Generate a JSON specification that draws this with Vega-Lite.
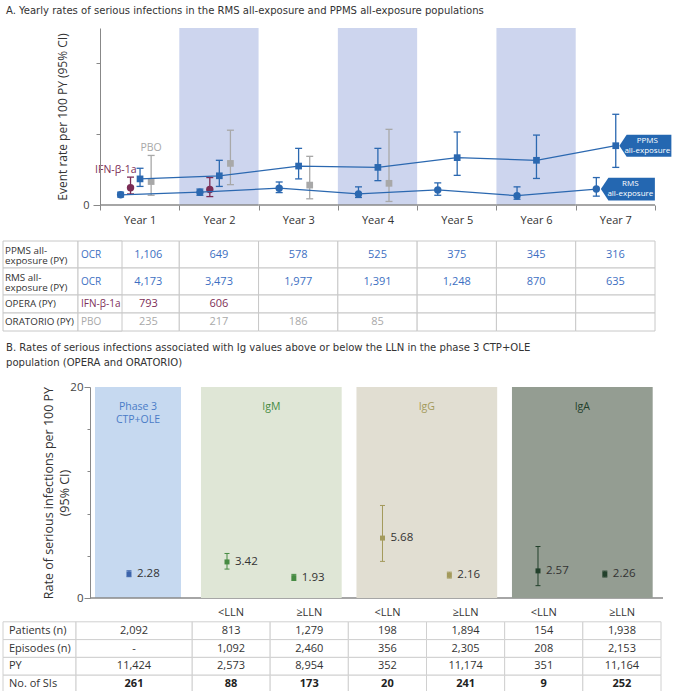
{
"$schema": "https://vega.github.io/schema/vega-lite/v6.json",
"padding": {"left": 2, "top": 4, "right": 0, "bottom": 0},
"config": {
  "font": "Open Sans",
  "view": {"stroke": null},
  "axis": {"labelFont": "Open Sans", "titleFont": "Open Sans"},
  "text": {"font": "Open Sans", "fontSize": 11, "color": "#333"}
},
"datasets": {
  "yearsA": [{"year": "Year 1"}, {"year": "Year 2"}, {"year": "Year 3"}, {"year": "Year 4"}, {"year": "Year 5"}, {"year": "Year 6"}, {"year": "Year 7"}],
  "shadeA": [{"year": "Year 2"}, {"year": "Year 4"}, {"year": "Year 6"}],
  "trendA": [
    {"year": "Year 1", "series": "RMS", "rate": 1.15, "lo": 0.9, "hi": 1.45},
    {"year": "Year 1", "series": "IFN-β-1a", "rate": 1.95, "lo": 1.25, "hi": 3.15},
    {"year": "Year 1", "series": "PPMS", "rate": 2.95, "lo": 2.1, "hi": 4.15},
    {"year": "Year 1", "series": "PBO", "rate": 2.65, "lo": 1.1, "hi": 5.6},
    {"year": "Year 2", "series": "RMS", "rate": 1.45, "lo": 1.1, "hi": 1.8},
    {"year": "Year 2", "series": "IFN-β-1a", "rate": 1.75, "lo": 0.95, "hi": 3.1},
    {"year": "Year 2", "series": "PPMS", "rate": 3.3, "lo": 2.1, "hi": 5.05},
    {"year": "Year 2", "series": "PBO", "rate": 4.7, "lo": 2.3, "hi": 8.45},
    {"year": "Year 3", "series": "RMS", "rate": 1.9, "lo": 1.4, "hi": 2.6},
    {"year": "Year 3", "series": "PPMS", "rate": 4.4, "lo": 2.95, "hi": 6.4},
    {"year": "Year 3", "series": "PBO", "rate": 2.25, "lo": 0.7, "hi": 5.5},
    {"year": "Year 4", "series": "RMS", "rate": 1.25, "lo": 0.85, "hi": 2.05},
    {"year": "Year 4", "series": "PPMS", "rate": 4.25, "lo": 2.75, "hi": 6.4},
    {"year": "Year 4", "series": "PBO", "rate": 2.45, "lo": 0.4, "hi": 8.55},
    {"year": "Year 5", "series": "RMS", "rate": 1.7, "lo": 1.1, "hi": 2.5},
    {"year": "Year 5", "series": "PPMS", "rate": 5.35, "lo": 3.35, "hi": 8.25},
    {"year": "Year 6", "series": "RMS", "rate": 1.05, "lo": 0.65, "hi": 2.05},
    {"year": "Year 6", "series": "PPMS", "rate": 5.05, "lo": 3.0, "hi": 7.9},
    {"year": "Year 7", "series": "RMS", "rate": 1.8, "lo": 1.0, "hi": 3.1},
    {"year": "Year 7", "series": "PPMS", "rate": 6.7, "lo": 4.25, "hi": 10.25}
  ],
  "tagsA": [
    {"year": "Year 7", "series": "PPMS", "rate": 6.7, "label": "PPMS\nall-exposure"},
    {"year": "Year 7", "series": "RMS", "rate": 1.8, "label": "RMS\nall-exposure"}
  ],
  "tableA": [
    {"set": "all", "row": "PPMS all-exposure (PY)", "col": "label", "text": "PPMS all-\nexposure (PY)"},
    {"set": "all", "row": "PPMS all-exposure (PY)", "col": "trt", "text": "OCR", "arm": "OCR"},
    {"set": "all", "row": "PPMS all-exposure (PY)", "col": "Year 1", "text": "1,106", "arm": "OCR"},
    {"set": "all", "row": "PPMS all-exposure (PY)", "col": "Year 2", "text": "649", "arm": "OCR"},
    {"set": "all", "row": "PPMS all-exposure (PY)", "col": "Year 3", "text": "578", "arm": "OCR"},
    {"set": "all", "row": "PPMS all-exposure (PY)", "col": "Year 4", "text": "525", "arm": "OCR"},
    {"set": "all", "row": "PPMS all-exposure (PY)", "col": "Year 5", "text": "375", "arm": "OCR"},
    {"set": "all", "row": "PPMS all-exposure (PY)", "col": "Year 6", "text": "345", "arm": "OCR"},
    {"set": "all", "row": "PPMS all-exposure (PY)", "col": "Year 7", "text": "316", "arm": "OCR"},
    {"set": "all", "row": "RMS all-exposure (PY)", "col": "label", "text": "RMS all-\nexposure (PY)"},
    {"set": "all", "row": "RMS all-exposure (PY)", "col": "trt", "text": "OCR", "arm": "OCR"},
    {"set": "all", "row": "RMS all-exposure (PY)", "col": "Year 1", "text": "4,173", "arm": "OCR"},
    {"set": "all", "row": "RMS all-exposure (PY)", "col": "Year 2", "text": "3,473", "arm": "OCR"},
    {"set": "all", "row": "RMS all-exposure (PY)", "col": "Year 3", "text": "1,977", "arm": "OCR"},
    {"set": "all", "row": "RMS all-exposure (PY)", "col": "Year 4", "text": "1,391", "arm": "OCR"},
    {"set": "all", "row": "RMS all-exposure (PY)", "col": "Year 5", "text": "1,248", "arm": "OCR"},
    {"set": "all", "row": "RMS all-exposure (PY)", "col": "Year 6", "text": "870", "arm": "OCR"},
    {"set": "all", "row": "RMS all-exposure (PY)", "col": "Year 7", "text": "635", "arm": "OCR"},
    {"set": "ctp", "row": "OPERA (PY)", "col": "label", "text": "OPERA (PY)"},
    {"set": "ctp", "row": "OPERA (PY)", "col": "trt", "text": "IFN-β-1a", "arm": "IFN-β-1a"},
    {"set": "ctp", "row": "OPERA (PY)", "col": "Year 1", "text": "793", "arm": "IFN-β-1a"},
    {"set": "ctp", "row": "OPERA (PY)", "col": "Year 2", "text": "606", "arm": "IFN-β-1a"},
    {"set": "ctp", "row": "OPERA (PY)", "col": "Year 3", "text": "", "arm": "IFN-β-1a"},
    {"set": "ctp", "row": "OPERA (PY)", "col": "Year 4", "text": "", "arm": "IFN-β-1a"},
    {"set": "ctp", "row": "OPERA (PY)", "col": "Year 5", "text": "", "arm": "IFN-β-1a"},
    {"set": "ctp", "row": "OPERA (PY)", "col": "Year 6", "text": "", "arm": "IFN-β-1a"},
    {"set": "ctp", "row": "OPERA (PY)", "col": "Year 7", "text": "", "arm": "IFN-β-1a"},
    {"set": "ctp", "row": "ORATORIO (PY)", "col": "label", "text": "ORATORIO (PY)"},
    {"set": "ctp", "row": "ORATORIO (PY)", "col": "trt", "text": "PBO", "arm": "PBO"},
    {"set": "ctp", "row": "ORATORIO (PY)", "col": "Year 1", "text": "235", "arm": "PBO"},
    {"set": "ctp", "row": "ORATORIO (PY)", "col": "Year 2", "text": "217", "arm": "PBO"},
    {"set": "ctp", "row": "ORATORIO (PY)", "col": "Year 3", "text": "186", "arm": "PBO"},
    {"set": "ctp", "row": "ORATORIO (PY)", "col": "Year 4", "text": "85", "arm": "PBO"},
    {"set": "ctp", "row": "ORATORIO (PY)", "col": "Year 5", "text": "", "arm": "PBO"},
    {"set": "ctp", "row": "ORATORIO (PY)", "col": "Year 6", "text": "", "arm": "PBO"},
    {"set": "ctp", "row": "ORATORIO (PY)", "col": "Year 7", "text": "", "arm": "PBO"}
  ],
  "pointsB": [
    {"group": "Phase 3", "level": "All", "rate": 2.28, "lo": 2.02, "hi": 2.58},
    {"group": "IgM", "level": "<LLN", "rate": 3.42, "lo": 2.74, "hi": 4.22},
    {"group": "IgM", "level": "≥LLN", "rate": 1.93, "lo": 1.66, "hi": 2.24},
    {"group": "IgG", "level": "<LLN", "rate": 5.68, "lo": 3.47, "hi": 8.77},
    {"group": "IgG", "level": "≥LLN", "rate": 2.16, "lo": 1.89, "hi": 2.45},
    {"group": "IgA", "level": "<LLN", "rate": 2.57, "lo": 1.17, "hi": 4.88},
    {"group": "IgA", "level": "≥LLN", "rate": 2.26, "lo": 1.99, "hi": 2.55}
  ],
  "groupsB": [{"group": "IgM"}, {"group": "IgG"}, {"group": "IgA"}],
  "tableB": [
    {"row": "hdr", "col": "IgM <LLN", "text": "<LLN"},
    {"row": "hdr", "col": "IgM ≥LLN", "text": "≥LLN"},
    {"row": "hdr", "col": "IgG <LLN", "text": "<LLN"},
    {"row": "hdr", "col": "IgG ≥LLN", "text": "≥LLN"},
    {"row": "hdr", "col": "IgA <LLN", "text": "<LLN"},
    {"row": "hdr", "col": "IgA ≥LLN", "text": "≥LLN"},
    {"row": "Patients (n)", "col": "label", "text": "Patients (n)"},
    {"row": "Patients (n)", "col": "Phase 3", "text": "2,092"},
    {"row": "Patients (n)", "col": "IgM <LLN", "text": "813"},
    {"row": "Patients (n)", "col": "IgM ≥LLN", "text": "1,279"},
    {"row": "Patients (n)", "col": "IgG <LLN", "text": "198"},
    {"row": "Patients (n)", "col": "IgG ≥LLN", "text": "1,894"},
    {"row": "Patients (n)", "col": "IgA <LLN", "text": "154"},
    {"row": "Patients (n)", "col": "IgA ≥LLN", "text": "1,938"},
    {"row": "Episodes (n)", "col": "label", "text": "Episodes (n)"},
    {"row": "Episodes (n)", "col": "Phase 3", "text": "-"},
    {"row": "Episodes (n)", "col": "IgM <LLN", "text": "1,092"},
    {"row": "Episodes (n)", "col": "IgM ≥LLN", "text": "2,460"},
    {"row": "Episodes (n)", "col": "IgG <LLN", "text": "356"},
    {"row": "Episodes (n)", "col": "IgG ≥LLN", "text": "2,305"},
    {"row": "Episodes (n)", "col": "IgA <LLN", "text": "208"},
    {"row": "Episodes (n)", "col": "IgA ≥LLN", "text": "2,153"},
    {"row": "PY", "col": "label", "text": "PY"},
    {"row": "PY", "col": "Phase 3", "text": "11,424"},
    {"row": "PY", "col": "IgM <LLN", "text": "2,573"},
    {"row": "PY", "col": "IgM ≥LLN", "text": "8,954"},
    {"row": "PY", "col": "IgG <LLN", "text": "352"},
    {"row": "PY", "col": "IgG ≥LLN", "text": "11,174"},
    {"row": "PY", "col": "IgA <LLN", "text": "351"},
    {"row": "PY", "col": "IgA ≥LLN", "text": "11,164"},
    {"row": "No. of SIs", "col": "label", "text": "No. of SIs"},
    {"row": "No. of SIs", "col": "Phase 3", "text": "261"},
    {"row": "No. of SIs", "col": "IgM <LLN", "text": "88"},
    {"row": "No. of SIs", "col": "IgM ≥LLN", "text": "173"},
    {"row": "No. of SIs", "col": "IgG <LLN", "text": "20"},
    {"row": "No. of SIs", "col": "IgG ≥LLN", "text": "241"},
    {"row": "No. of SIs", "col": "IgA <LLN", "text": "9"},
    {"row": "No. of SIs", "col": "IgA ≥LLN", "text": "252"}
  ]
},
"spacing": 9,
"resolve": {"scale": {"color": "independent", "fill": "independent"}},
"vconcat": [
 {"spacing": 15, "resolve": {"scale": {"color": "independent", "fill": "independent"}}, "vconcat": [
  {
   "width": 652, "height": 177,
   "title": {"text": "A. Yearly rates of serious infections in the RMS all-exposure and PPMS all-exposure populations", "anchor": "start", "frame": "group", "dx": 3, "offset": 12, "fontSize": 11.2, "fontWeight": "normal", "font": "Liberation Sans Narrow, DejaVu Sans Condensed, Open Sans", "color": "#333"},
   "layer": [
    {"data": {"name": "shadeA"}, "mark": {"type": "rect", "color": "#cdd5ee"},
     "encoding": {
       "x": {"field": "year", "type": "nominal", "bandPosition": 0, "scale": {"type": "band", "domain": ["Year 1","Year 2","Year 3","Year 4","Year 5","Year 6","Year 7"], "paddingInner": 0, "paddingOuter": 0.6117, "align": 1},
             "axis": {"title": null, "tickBand": "extent", "domain": false, "tickColor": "#888", "tickSize": 5, "labelFontSize": 11, "labelColor": "#333", "labelPadding": 4, "labelAngle": 0}},
       "x2": {"field": "year", "bandPosition": 1},
       "y": {"datum": 0, "type": "quantitative", "scale": {"domain": [0, 20]},
             "axis": {"title": "Event rate per 100 PY (95% CI)", "offset": -97, "zindex": 1, "values": [0,1,2,3,4,5,6,7,8,9,10,11,12,13,14,15,16,17,18,19,20], "labelExpr": "datum.value % 5 === 0 ? datum.label : ''", "labelOverlap": false, "tickSize": {"condition": {"test": "datum.value % 5 === 0", "value": 7}, "value": 4}, "grid": false, "domainColor": "#888", "tickColor": "#888", "labelFontSize": 11, "labelColor": "#444", "labelPadding": 4, "titleFontSize": 12, "titleFontWeight": "normal", "titleColor": "#333", "titlePadding": 13}},
       "y2": {"datum": 20}
     }},
    {"data": {"name": "yearsA"}, "mark": {"type": "rule", "color": "#888", "strokeWidth": 1.5},
     "encoding": {"x": {"field": "year", "type": "nominal", "bandPosition": 0}, "x2": {"field": "year", "bandPosition": 1}, "y": {"datum": 0, "type": "quantitative"}}},
    {"data": {"name": "trendA"}, "transform": [{"filter": "datum.series == 'PBO'"}],
     "encoding": {"x": {"field": "year", "type": "nominal", "bandPosition": 0.645}},
     "layer": [
       {"mark": {"type": "rule", "strokeWidth": 1.3, "color": "#a8a8a8"}, "encoding": {"y": {"field": "lo", "type": "quantitative"}, "y2": {"field": "hi"}}},
       {"mark": {"type": "point", "shape": "M-1,0L1,0", "filled": false, "strokeWidth": 1.3, "size": 49, "opacity": 1, "color": "#a8a8a8"}, "encoding": {"y": {"field": "lo", "type": "quantitative"}}},
       {"mark": {"type": "point", "shape": "M-1,0L1,0", "filled": false, "strokeWidth": 1.3, "size": 49, "opacity": 1, "color": "#a8a8a8"}, "encoding": {"y": {"field": "hi", "type": "quantitative"}}},
       {"mark": {"type": "point", "shape": "square", "filled": true, "opacity": 1, "size": 45, "color": "#a8a8a8"}, "encoding": {"y": {"field": "rate", "type": "quantitative"}}}
     ]},
    {"data": {"name": "trendA"}, "transform": [{"filter": "datum.series == 'IFN-β-1a'"}],
     "encoding": {"x": {"field": "year", "type": "nominal", "bandPosition": 0.385}},
     "layer": [
       {"mark": {"type": "rule", "strokeWidth": 1.3, "color": "#7b2c55"}, "encoding": {"y": {"field": "lo", "type": "quantitative"}, "y2": {"field": "hi"}}},
       {"mark": {"type": "point", "shape": "M-1,0L1,0", "filled": false, "strokeWidth": 1.3, "size": 49, "opacity": 1, "color": "#7b2c55"}, "encoding": {"y": {"field": "lo", "type": "quantitative"}}},
       {"mark": {"type": "point", "shape": "M-1,0L1,0", "filled": false, "strokeWidth": 1.3, "size": 49, "opacity": 1, "color": "#7b2c55"}, "encoding": {"y": {"field": "hi", "type": "quantitative"}}},
       {"mark": {"type": "point", "shape": "circle", "filled": true, "opacity": 1, "size": 55, "color": "#7b2c55"}, "encoding": {"y": {"field": "rate", "type": "quantitative"}}}
     ]},
    {"data": {"name": "trendA"}, "transform": [{"filter": "datum.series == 'RMS'"}],
     "encoding": {"x": {"field": "year", "type": "nominal", "bandPosition": 0.26}},
     "layer": [
       {"mark": {"type": "rule", "strokeWidth": 1.3, "color": "#2b68b0"}, "encoding": {"y": {"field": "lo", "type": "quantitative"}, "y2": {"field": "hi"}}},
       {"mark": {"type": "point", "shape": "M-1,0L1,0", "filled": false, "strokeWidth": 1.3, "size": 49, "opacity": 1, "color": "#2b68b0"}, "encoding": {"y": {"field": "lo", "type": "quantitative"}}},
       {"mark": {"type": "point", "shape": "M-1,0L1,0", "filled": false, "strokeWidth": 1.3, "size": 49, "opacity": 1, "color": "#2b68b0"}, "encoding": {"y": {"field": "hi", "type": "quantitative"}}},
       {"mark": {"type": "line", "strokeWidth": 1.3, "color": "#2b68b0"}, "encoding": {"y": {"field": "rate", "type": "quantitative"}}},
       {"mark": {"type": "point", "shape": "circle", "filled": true, "opacity": 1, "size": 55, "color": "#2b68b0"}, "encoding": {"y": {"field": "rate", "type": "quantitative"}}}
     ]},
    {"data": {"name": "trendA"}, "transform": [{"filter": "datum.series == 'PPMS'"}],
     "encoding": {"x": {"field": "year", "type": "nominal", "bandPosition": 0.505}},
     "layer": [
       {"mark": {"type": "rule", "strokeWidth": 1.3, "color": "#2b68b0"}, "encoding": {"y": {"field": "lo", "type": "quantitative"}, "y2": {"field": "hi"}}},
       {"mark": {"type": "point", "shape": "M-1,0L1,0", "filled": false, "strokeWidth": 1.3, "size": 49, "opacity": 1, "color": "#2b68b0"}, "encoding": {"y": {"field": "lo", "type": "quantitative"}}},
       {"mark": {"type": "point", "shape": "M-1,0L1,0", "filled": false, "strokeWidth": 1.3, "size": 49, "opacity": 1, "color": "#2b68b0"}, "encoding": {"y": {"field": "hi", "type": "quantitative"}}},
       {"mark": {"type": "line", "strokeWidth": 1.3, "color": "#2b68b0"}, "encoding": {"y": {"field": "rate", "type": "quantitative"}}},
       {"mark": {"type": "point", "shape": "square", "filled": true, "opacity": 1, "size": 45, "color": "#2b68b0"}, "encoding": {"y": {"field": "rate", "type": "quantitative"}}}
     ]},
    {"data": {"name": "trendA"}, "transform": [{"filter": "datum.year == 'Year 1' && (datum.series == 'PBO' || datum.series == 'IFN-β-1a')"}],
     "layer": [
       {"transform": [{"filter": "datum.series == 'PBO'"}], "mark": {"type": "text", "align": "center", "baseline": "alphabetic", "dy": -4, "fontSize": 10.5, "color": "#a8a8a8"}, "encoding": {"x": {"field": "year", "type": "nominal", "bandPosition": 0.645}, "y": {"field": "hi", "type": "quantitative"}, "text": {"field": "series"}}},
       {"transform": [{"filter": "datum.series == 'IFN-β-1a'"}], "mark": {"type": "text", "align": "right", "baseline": "alphabetic", "dx": 6, "dy": -4, "fontSize": 10.5, "color": "#7b2c55"}, "encoding": {"x": {"field": "year", "type": "nominal", "bandPosition": 0.385}, "y": {"field": "hi", "type": "quantitative"}, "text": {"field": "series"}}}
     ]},
    {"data": {"name": "tagsA"}, "transform": [{"filter": "datum.series == 'PPMS'"}],
     "encoding": {"x": {"field": "year", "type": "nominal"}, "y": {"field": "rate", "type": "quantitative"}},
     "layer": [
       {"mark": {"type": "point", "shape": "M-1,0L-0.72,-0.42L1,-0.42L1,0.42L-0.72,0.42Z", "size": 2704, "filled": true, "color": "#2467b1", "opacity": 1, "xOffset": 30}},
       {"mark": {"type": "text", "color": "white", "fontSize": 8, "lineBreak": "\n", "lineHeight": 10, "align": "center", "baseline": "middle", "dx": 32, "dy": -5}, "encoding": {"text": {"field": "label"}}}
     ]},
    {"data": {"name": "tagsA"}, "transform": [{"filter": "datum.series == 'RMS'"}],
     "encoding": {"x": {"field": "year", "type": "nominal"}, "y": {"field": "rate", "type": "quantitative"}},
     "layer": [
       {"mark": {"type": "point", "shape": "M-1,0L-0.72,-0.42L1,-0.42L1,0.42L-0.72,0.42Z", "size": 2916, "filled": true, "color": "#2467b1", "opacity": 1, "xOffset": 12.5}},
       {"mark": {"type": "text", "color": "white", "fontSize": 8, "lineBreak": "\n", "lineHeight": 10, "align": "center", "baseline": "middle", "dx": 15, "dy": -5}, "encoding": {"text": {"field": "label"}}}
     ]}
   ]
  },
  {"spacing": 0, "bounds": "flush", "vconcat": [
   {
    "width": 652, "height": 54,
    "data": {"name": "tableA"},
    "transform": [{"filter": "datum.set == 'all'"}],
    "resolve": {"scale": {"x": "independent"}},
    "layer": [
     {"transform": [{"filter": "datum.col != 'label' && datum.col != 'trt'"}],
      "layer": [
        {"mark": {"type": "rect", "fill": "#ffffff", "stroke": "#c8c8c8", "strokeWidth": 1},
         "encoding": {"x": {"field": "col", "type": "nominal", "bandPosition": 0, "scale": {"type": "band", "domain": ["Year 1","Year 2","Year 3","Year 4","Year 5","Year 6","Year 7"], "paddingInner": 0, "paddingOuter": 0.6117, "align": 1}, "axis": null}, "x2": {"field": "col", "bandPosition": 1},
                      "y": {"field": "row", "type": "nominal", "bandPosition": 0, "scale": {"type": "band", "domain": ["PPMS all-exposure (PY)", "RMS all-exposure (PY)"], "paddingInner": 0, "paddingOuter": 0}, "axis": null}, "y2": {"field": "row", "bandPosition": 1}}},
        {"transform": [{"filter": "datum.col != 'Year 1'"}], "mark": {"type": "text", "align": "center", "baseline": "middle", "fontSize": 11},
         "encoding": {"text": {"field": "text"}, "x": {"field": "col", "type": "nominal"}, "y": {"field": "row", "type": "nominal"}, "color": {"field": "arm", "type": "nominal", "scale": {"domain": ["OCR","IFN-β-1a","PBO"], "range": ["#3d6fc2","#7e2f58","#a9a9a9"]}, "legend": null}}},
        {"transform": [{"filter": "datum.col == 'Year 1'"}], "mark": {"type": "text", "align": "center", "baseline": "middle", "fontSize": 11},
         "encoding": {"text": {"field": "text"}, "x": {"field": "col", "type": "nominal", "bandPosition": 0.61}, "y": {"field": "row", "type": "nominal"}, "color": {"field": "arm", "type": "nominal", "legend": null}}}
      ]},
     {"transform": [{"filter": "datum.col == 'label'"}],
      "layer": [
        {"mark": {"type": "rect", "fill": "#ffffff", "stroke": "#c8c8c8", "strokeWidth": 1},
         "encoding": {"x": {"field": "col", "type": "nominal", "bandPosition": 0, "scale": {"type": "band", "domain": ["label"], "paddingInner": 0.74003, "paddingOuter": 1, "align": 0}, "axis": null}, "x2": {"field": "col", "bandPosition": 1},
                      "y": {"field": "row", "type": "nominal", "bandPosition": 0, "axis": null}, "y2": {"field": "row", "bandPosition": 1}}},
        {"mark": {"type": "text", "align": "left", "baseline": "middle", "dx": 2, "dy": -4, "lineBreak": "\n", "lineHeight": 10.5, "fontSize": 9.8, "color": "#333"},
         "encoding": {"text": {"field": "text"}, "x": {"field": "col", "type": "nominal", "bandPosition": 0}, "y": {"field": "row", "type": "nominal"}}}
      ]},
     {"transform": [{"filter": "datum.col == 'trt'"}],
      "layer": [
        {"mark": {"type": "rect", "fill": "#ffffff", "stroke": "#c8c8c8", "strokeWidth": 1},
         "encoding": {"x": {"field": "col", "type": "nominal", "bandPosition": 0, "scale": {"type": "band", "domain": ["trt"], "paddingInner": 0.85526, "paddingOuter": 1, "align": 0.12336}, "axis": null}, "x2": {"field": "col", "bandPosition": 1},
                      "y": {"field": "row", "type": "nominal", "bandPosition": 0, "axis": null}, "y2": {"field": "row", "bandPosition": 1}}},
        {"mark": {"type": "text", "align": "left", "baseline": "middle", "dx": 3, "fontSize": 10},
         "encoding": {"text": {"field": "text"}, "x": {"field": "col", "type": "nominal", "bandPosition": 0}, "y": {"field": "row", "type": "nominal"}, "color": {"field": "arm", "type": "nominal", "legend": null}}}
      ]}
    ]
   },
   {
    "width": 652, "height": 36,
    "data": {"name": "tableA"},
    "transform": [{"filter": "datum.set == 'ctp'"}],
    "resolve": {"scale": {"x": "independent"}},
    "layer": [
     {"transform": [{"filter": "datum.col != 'label' && datum.col != 'trt'"}],
      "layer": [
        {"mark": {"type": "rect", "fill": "#ffffff", "stroke": "#c8c8c8", "strokeWidth": 1},
         "encoding": {"x": {"field": "col", "type": "nominal", "bandPosition": 0, "scale": {"type": "band", "domain": ["Year 1","Year 2","Year 3","Year 4","Year 5","Year 6","Year 7"], "paddingInner": 0, "paddingOuter": 0.6117, "align": 1}, "axis": null}, "x2": {"field": "col", "bandPosition": 1},
                      "y": {"field": "row", "type": "nominal", "bandPosition": 0, "scale": {"type": "band", "domain": ["OPERA (PY)", "ORATORIO (PY)"], "paddingInner": 0, "paddingOuter": 0}, "axis": null}, "y2": {"field": "row", "bandPosition": 1}}},
        {"transform": [{"filter": "datum.col != 'Year 1'"}], "mark": {"type": "text", "align": "center", "baseline": "middle", "fontSize": 11},
         "encoding": {"text": {"field": "text"}, "x": {"field": "col", "type": "nominal"}, "y": {"field": "row", "type": "nominal"}, "color": {"field": "arm", "type": "nominal", "scale": {"domain": ["OCR","IFN-β-1a","PBO"], "range": ["#3d6fc2","#7e2f58","#a9a9a9"]}, "legend": null}}},
        {"transform": [{"filter": "datum.col == 'Year 1'"}], "mark": {"type": "text", "align": "center", "baseline": "middle", "fontSize": 11},
         "encoding": {"text": {"field": "text"}, "x": {"field": "col", "type": "nominal", "bandPosition": 0.61}, "y": {"field": "row", "type": "nominal"}, "color": {"field": "arm", "type": "nominal", "legend": null}}}
      ]},
     {"transform": [{"filter": "datum.col == 'label'"}],
      "layer": [
        {"mark": {"type": "rect", "fill": "#ffffff", "stroke": "#c8c8c8", "strokeWidth": 1},
         "encoding": {"x": {"field": "col", "type": "nominal", "bandPosition": 0, "scale": {"type": "band", "domain": ["label"], "paddingInner": 0.74003, "paddingOuter": 1, "align": 0}, "axis": null}, "x2": {"field": "col", "bandPosition": 1},
                      "y": {"field": "row", "type": "nominal", "bandPosition": 0, "axis": null}, "y2": {"field": "row", "bandPosition": 1}}},
        {"mark": {"type": "text", "align": "left", "baseline": "middle", "dx": 2, "fontSize": 9.8, "color": "#333"},
         "encoding": {"text": {"field": "text"}, "x": {"field": "col", "type": "nominal", "bandPosition": 0}, "y": {"field": "row", "type": "nominal"}}}
      ]},
     {"transform": [{"filter": "datum.col == 'trt'"}],
      "layer": [
        {"mark": {"type": "rect", "fill": "#ffffff", "stroke": "#c8c8c8", "strokeWidth": 1},
         "encoding": {"x": {"field": "col", "type": "nominal", "bandPosition": 0, "scale": {"type": "band", "domain": ["trt"], "paddingInner": 0.85526, "paddingOuter": 1, "align": 0.12336}, "axis": null}, "x2": {"field": "col", "bandPosition": 1},
                      "y": {"field": "row", "type": "nominal", "bandPosition": 0, "axis": null}, "y2": {"field": "row", "bandPosition": 1}}},
        {"mark": {"type": "text", "align": "left", "baseline": "middle", "dx": 3, "fontSize": 10},
         "encoding": {"text": {"field": "text"}, "x": {"field": "col", "type": "nominal", "bandPosition": 0}, "y": {"field": "row", "type": "nominal"}, "color": {"field": "arm", "type": "nominal", "legend": null}}}
      ]}
    ]
   }
  ]}
 ]},
 {"spacing": -3, "resolve": {"scale": {"color": "independent", "fill": "independent"}}, "vconcat": [
  {
   "width": 660, "height": 211,
   "title": {"text": ["B. Rates of serious infections associated with Ig values above or below the LLN in the phase 3 CTP+OLE", "\u2002\u2002population (OPERA and ORATORIO)"], "anchor": "start", "frame": "group", "dx": 3, "offset": 13, "fontSize": 11.2, "fontWeight": "normal", "font": "Liberation Sans Narrow, DejaVu Sans Condensed, Open Sans", "color": "#333", "lineHeight": 15},
   "resolve": {"scale": {"x": "independent"}},
   "layer": [
    {"data": {"name": "pointsB"}, "transform": [{"filter": "datum.group == 'Phase 3'"}],
     "layer": [
       {"mark": {"type": "rect", "color": "#c6d9f0"},
        "encoding": {"x": {"field": "group", "type": "nominal", "bandPosition": 0, "scale": {"type": "band", "domain": ["Phase 3"], "paddingInner": 0.700348, "paddingOuter": 1, "align": 0.160279}, "axis": null}, "x2": {"field": "group", "bandPosition": 1},
          "y": {"datum": 0, "type": "quantitative", "scale": {"domain": [0, 20]},
          "axis": {"title": ["Rate of serious infections per 100 PY", "(95% CI)"], "offset": -87, "zindex": 1, "values": [0,1,2,3,4,5,6,7,8,9,10,11,12,13,14,15,16,17,18,19,20], "labelExpr": "datum.value % 5 === 0 ? datum.label : ''", "labelOverlap": false, "tickSize": {"condition": {"test": "datum.value % 5 === 0", "value": 6}, "value": 3}, "grid": false, "domainColor": "#888", "tickColor": "#888", "labelFontSize": 11.5, "labelColor": "#444", "labelPadding": 1, "titleFontSize": 12.5, "titleFontWeight": "normal", "titleColor": "#333", "titlePadding": -2, "titleLineHeight": 16}},
          "y2": {"datum": 20}}},
       {"mark": {"type": "rule", "color": "#888", "strokeWidth": 1.5}, "encoding": {"x": {"field": "group", "type": "nominal", "bandPosition": -0.0581}, "x2": {"field": "group", "bandPosition": 6.605}, "y": {"datum": 0, "type": "quantitative"}}},
       {"mark": {"type": "text", "text": ["Phase 3", "CTP+OLE"], "baseline": "top", "dy": 15, "fontSize": 10.5, "lineHeight": 12.5, "color": "#4a7cc7"}, "encoding": {"x": {"field": "group", "type": "nominal"}, "y": {"datum": 20, "type": "quantitative"}}},
       {"mark": {"type": "rule", "color": "#3c64ab", "strokeWidth": 1}, "encoding": {"x": {"field": "group", "type": "nominal", "bandPosition": 0.395}, "y": {"field": "lo", "type": "quantitative"}, "y2": {"field": "hi"}}},
       {"mark": {"type": "point", "shape": "M-1,0L1,0", "filled": false, "strokeWidth": 1, "size": 25, "opacity": 1, "color": "#3c64ab"}, "encoding": {"x": {"field": "group", "type": "nominal", "bandPosition": 0.395}, "y": {"field": "lo", "type": "quantitative"}}},
       {"mark": {"type": "point", "shape": "M-1,0L1,0", "filled": false, "strokeWidth": 1, "size": 25, "opacity": 1, "color": "#3c64ab"}, "encoding": {"x": {"field": "group", "type": "nominal", "bandPosition": 0.395}, "y": {"field": "hi", "type": "quantitative"}}},
       {"mark": {"type": "point", "shape": "square", "filled": true, "opacity": 1, "size": 25, "color": "#3c64ab"}, "encoding": {"x": {"field": "group", "type": "nominal", "bandPosition": 0.395}, "y": {"field": "rate", "type": "quantitative"}}},
       {"mark": {"type": "text", "align": "left", "baseline": "middle", "dx": 8, "fontSize": 11.5, "color": "#333"}, "encoding": {"x": {"field": "group", "type": "nominal", "bandPosition": 0.395}, "y": {"field": "rate", "type": "quantitative"}, "text": {"field": "rate", "type": "quantitative", "format": ".2f"}}}
     ]},
    {"layer": [
       {"data": {"name": "groupsB"}, "mark": {"type": "rect"},
        "encoding": {"x": {"field": "group", "type": "nominal", "bandPosition": 0, "scale": {"type": "band", "domain": ["IgM", "IgG", "IgA"], "paddingInner": 0.095, "paddingOuter": 0.6697, "align": 0.9505}, "axis": null}, "x2": {"field": "group", "bandPosition": 1},
                     "fill": {"field": "group", "type": "nominal", "scale": {"domain": ["IgM", "IgG", "IgA"], "range": ["#dfe6d6", "#e1ded2", "#949d92"]}, "legend": null},
                     "y": {"datum": 0, "type": "quantitative"}, "y2": {"datum": 20}}},
       {"data": {"name": "groupsB"}, "mark": {"type": "text", "baseline": "top", "dy": 15, "fontSize": 10.5},
        "encoding": {"x": {"field": "group", "type": "nominal"}, "y": {"datum": 20, "type": "quantitative"}, "text": {"field": "group"},
                     "color": {"field": "group", "type": "nominal", "scale": {"domain": ["IgM", "IgG", "IgA"], "range": ["#468b42", "#a39a5c", "#22402b"]}, "legend": null}}},
       {"data": {"name": "pointsB"}, "transform": [{"filter": "datum.group != 'Phase 3' && datum.level == '<LLN'"}],
        "encoding": {"x": {"field": "group", "type": "nominal", "bandPosition": 0.185}, "color": {"field": "group", "type": "nominal", "legend": null}},
        "layer": [
          {"mark": {"type": "rule", "strokeWidth": 1}, "encoding": {"y": {"field": "lo", "type": "quantitative"}, "y2": {"field": "hi"}}},
          {"mark": {"type": "point", "shape": "M-1,0L1,0", "filled": false, "strokeWidth": 1, "size": 25, "opacity": 1}, "encoding": {"y": {"field": "lo", "type": "quantitative"}}},
          {"mark": {"type": "point", "shape": "M-1,0L1,0", "filled": false, "strokeWidth": 1, "size": 25, "opacity": 1}, "encoding": {"y": {"field": "hi", "type": "quantitative"}}},
          {"mark": {"type": "point", "shape": "square", "filled": true, "opacity": 1, "size": 25}, "encoding": {"y": {"field": "rate", "type": "quantitative"}}},
          {"mark": {"type": "text", "align": "left", "baseline": "middle", "dx": 8, "fontSize": 11.5}, "encoding": {"y": {"field": "rate", "type": "quantitative"}, "text": {"field": "rate", "type": "quantitative", "format": ".2f"}, "color": {"value": "#333"}}}
        ]},
       {"data": {"name": "pointsB"}, "transform": [{"filter": "datum.group != 'Phase 3' && datum.level == '≥LLN'"}],
        "encoding": {"x": {"field": "group", "type": "nominal", "bandPosition": 0.66}, "color": {"field": "group", "type": "nominal", "legend": null}},
        "layer": [
          {"mark": {"type": "rule", "strokeWidth": 1}, "encoding": {"y": {"field": "lo", "type": "quantitative"}, "y2": {"field": "hi"}}},
          {"mark": {"type": "point", "shape": "M-1,0L1,0", "filled": false, "strokeWidth": 1, "size": 25, "opacity": 1}, "encoding": {"y": {"field": "lo", "type": "quantitative"}}},
          {"mark": {"type": "point", "shape": "M-1,0L1,0", "filled": false, "strokeWidth": 1, "size": 25, "opacity": 1}, "encoding": {"y": {"field": "hi", "type": "quantitative"}}},
          {"mark": {"type": "point", "shape": "square", "filled": true, "opacity": 1, "size": 25}, "encoding": {"y": {"field": "rate", "type": "quantitative"}}},
          {"mark": {"type": "text", "align": "left", "baseline": "middle", "dx": 8, "fontSize": 11.5}, "encoding": {"y": {"field": "rate", "type": "quantitative"}, "text": {"field": "rate", "type": "quantitative", "format": ".2f"}, "color": {"value": "#333"}}}
        ]}
    ]}
   ]
  },
  {
   "width": 658, "height": 89,
   "data": {"name": "tableB"},
   "resolve": {"scale": {"x": "independent"}},
   "layer": [
    {"transform": [{"filter": "datum.col == 'label'"}],
     "layer": [
       {"mark": {"type": "rect", "fill": "#ffffff", "stroke": "#d0d0d0", "strokeWidth": 1},
        "encoding": {"x": {"field": "col", "type": "nominal", "bandPosition": 0, "scale": {"type": "band", "domain": ["label"], "paddingInner": 0.75043, "paddingOuter": 1, "align": 0}, "axis": null}, "x2": {"field": "col", "bandPosition": 1},
                     "y": {"field": "row", "type": "nominal", "bandPosition": 0, "scale": {"type": "band", "domain": ["hdr", "Patients (n)", "Episodes (n)", "PY", "No. of SIs"], "paddingInner": 0, "paddingOuter": 0}, "axis": null}, "y2": {"field": "row", "bandPosition": 1}}},
       {"mark": {"type": "text", "align": "left", "baseline": "middle", "dx": 6, "fontSize": 11}, "encoding": {"text": {"field": "text"}, "x": {"field": "col", "type": "nominal", "bandPosition": 0}, "y": {"field": "row", "type": "nominal"}}}
     ]},
    {"transform": [{"filter": "datum.col != 'label'"}],
     "layer": [
       {"transform": [{"filter": "datum.row != 'hdr' && datum.col != 'Phase 3'"}], "mark": {"type": "rect", "fill": "#ffffff", "stroke": "#d0d0d0", "strokeWidth": 1},
        "encoding": {"x": {"field": "col", "type": "nominal", "bandPosition": 0, "scale": {"type": "band", "domain": ["Phase 3", "IgM <LLN", "IgM ≥LLN", "IgG <LLN", "IgG ≥LLN", "IgA <LLN", "IgA ≥LLN"], "paddingInner": 0, "paddingOuter": 0.70896, "align": 1}, "axis": null}, "x2": {"field": "col", "bandPosition": 1},
                     "y": {"field": "row", "type": "nominal", "bandPosition": 0, "scale": {"type": "band", "domain": ["hdr", "Patients (n)", "Episodes (n)", "PY", "No. of SIs"], "paddingInner": 0, "paddingOuter": 0}, "axis": null}, "y2": {"field": "row", "bandPosition": 1}}},
       {"transform": [{"filter": "datum.col == 'Phase 3'"}], "mark": {"type": "rect", "fill": "#ffffff", "stroke": "#d0d0d0", "strokeWidth": 1},
        "encoding": {"x": {"field": "col", "type": "nominal", "bandPosition": -0.4836}, "x2": {"field": "col", "bandPosition": 1},
                     "y": {"field": "row", "type": "nominal", "bandPosition": 0}, "y2": {"field": "row", "bandPosition": 1}}},
       {"transform": [{"filter": "datum.row != 'No. of SIs' && datum.col != 'Phase 3'"}], "mark": {"type": "text", "baseline": "middle", "fontSize": 11}, "encoding": {"text": {"field": "text"}, "x": {"field": "col", "type": "nominal"}, "y": {"field": "row", "type": "nominal"}}},
       {"transform": [{"filter": "datum.row == 'No. of SIs' && datum.col != 'Phase 3'"}], "mark": {"type": "text", "baseline": "middle", "fontSize": 11, "fontWeight": "bold", "color": "#222"}, "encoding": {"text": {"field": "text"}, "x": {"field": "col", "type": "nominal"}, "y": {"field": "row", "type": "nominal"}}},
       {"transform": [{"filter": "datum.row != 'No. of SIs' && datum.col == 'Phase 3'"}], "mark": {"type": "text", "baseline": "middle", "fontSize": 11}, "encoding": {"text": {"field": "text"}, "x": {"field": "col", "type": "nominal", "bandPosition": 0.258}, "y": {"field": "row", "type": "nominal"}}},
       {"transform": [{"filter": "datum.row == 'No. of SIs' && datum.col == 'Phase 3'"}], "mark": {"type": "text", "baseline": "middle", "fontSize": 11, "fontWeight": "bold", "color": "#222"}, "encoding": {"text": {"field": "text"}, "x": {"field": "col", "type": "nominal", "bandPosition": 0.258}, "y": {"field": "row", "type": "nominal"}}}
     ]}
   ]
  }
 ]}
]
}
